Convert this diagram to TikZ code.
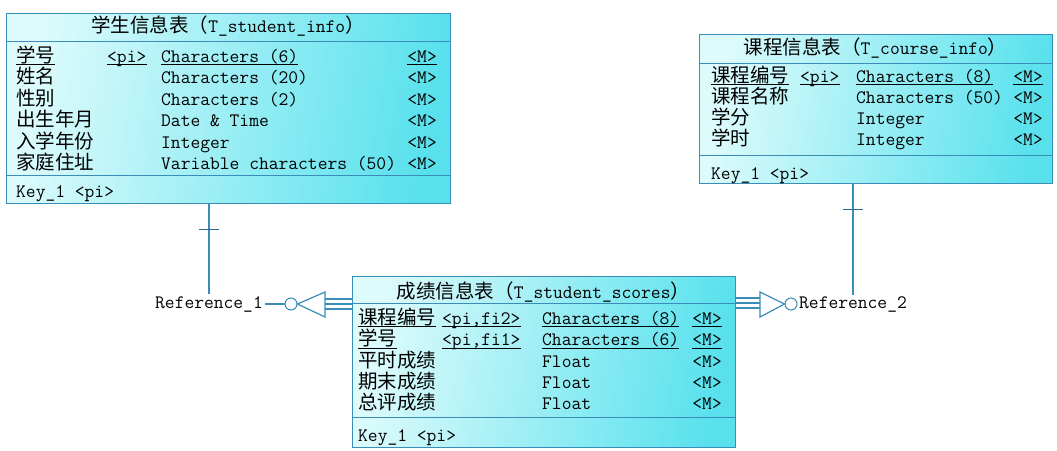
\documentclass[tikz,border=0pt]{standalone}
\usepackage{fontspec}
\newfontfamily\cjkfont{Noto Sans CJK SC}
\definecolor{bd}{RGB}{58,140,185}
\definecolor{cl}{RGB}{222,251,252}
\definecolor{cr}{RGB}{88,225,237}
\definecolor{tk}{RGB}{45,105,140}
\newcommand\zh[1]{{\cjkfont\fontsize{19.5}{20}\selectfont #1}}
\begin{document}
\begin{tikzpicture}[x=1pt,y=-1pt,
  tbl/.style={draw=bd, line width=1.2pt, left color=cl, right color=cr, shading angle=80, anchor=north west, inner sep=0pt},
  sepl/.style={draw=bd, line width=1pt},
  txt/.style={anchor=base west, inner sep=0pt, font=\ttfamily\fontsize{19}{20}\selectfont},
  rtxt/.style={txt, anchor=base east},
  ctxt/.style={txt, anchor=base},
  ul/.style={draw=black, line width=0.8pt},
  conn/.style={draw=bd, line width=1.2pt},
  tick/.style={draw=tk, line width=1pt},
  ring/.style={circle, draw=bd, line width=1pt, minimum size=12pt, inner sep=0pt}]
\useasboundingbox (0,0) rectangle (1057,450);
\fill[white] (0,0) rectangle (1057,450);

% ---------- Table 1: T_student_info ----------
\node[tbl, minimum width=444pt, minimum height=190pt] (t1) at (6,13) {};
\draw[sepl] (6,41) -- (450,41);
\draw[sepl] (6,175) -- (450,175);
\node[ctxt] (t1title) at (228,32) {\zh{学生信息表（}T\_student\_info\zh{）}};
\node[txt] (a11) at (16,62) {\zh{学号}};
\node[txt] (a12) at (107,62) {<pi>};
\node[txt] (a13) at (161,62) {Characters (6)};
\node[rtxt] (a14) at (437,62) {<M>};
\node[txt] (a21) at (16,83.5) {\zh{姓名}};
\node[txt] (a23) at (161,83.5) {Characters (20)};
\node[rtxt] (a24) at (437,83.5) {<M>};
\node[txt] (a31) at (16,105) {\zh{性别}};
\node[txt] (a33) at (161,105) {Characters (2)};
\node[rtxt] (a34) at (437,105) {<M>};
\node[txt] (a41) at (16,126.5) {\zh{出生年月}};
\node[txt] (a43) at (161,126.5) {Date \& Time};
\node[rtxt] (a44) at (437,126.5) {<M>};
\node[txt] (a51) at (16,148) {\zh{入学年份}};
\node[txt] (a53) at (161,148) {Integer};
\node[rtxt] (a54) at (437,148) {<M>};
\node[txt] (a61) at (16,169) {\zh{家庭住址}};
\node[txt] (a63) at (161,169) {Variable characters (50)};
\node[rtxt] (a64) at (437,169) {<M>};
\node[txt] (k1) at (16,197) {Key\_1 <pi>};

% ---------- Table 2: T_course_info ----------
\node[tbl, minimum width=353pt, minimum height=149pt] (t2) at (699,34) {};
\draw[sepl] (699,63) -- (1052,63);
\draw[sepl] (699,155) -- (1052,155);
\node[ctxt] (t2title) at (875.5,54) {\zh{课程信息表（}T\_course\_info\zh{）}};
\node[txt] (b11) at (711,82) {\zh{课程编号}};
\node[txt] (b12) at (800,82) {<pi>};
\node[txt] (b13) at (856,82) {Characters (8)};
\node[rtxt] (b14) at (1043,82) {<M>};
\node[txt] (b21) at (711,103) {\zh{课程名称}};
\node[txt] (b23) at (856,103) {Characters (50)};
\node[rtxt] (b24) at (1043,103) {<M>};
\node[txt] (b31) at (711,124) {\zh{学分}};
\node[txt] (b33) at (856,124) {Integer};
\node[rtxt] (b34) at (1043,124) {<M>};
\node[txt] (b41) at (711,145) {\zh{学时}};
\node[txt] (b43) at (856,145) {Integer};
\node[rtxt] (b44) at (1043,145) {<M>};
\node[txt] (k2) at (711,179) {Key\_1 <pi>};

% ---------- Table 3: T_student_scores ----------
\node[tbl, minimum width=383pt, minimum height=171pt] (t3) at (352,276) {};
\draw[sepl] (352,303) -- (735,303);
\draw[sepl] (352,417) -- (735,417);
\node[ctxt] (t3title) at (543.5,298) {\zh{成绩信息表（}T\_student\_scores\zh{）}};
\node[txt] (c11) at (358,324) {\zh{课程编号}};
\node[txt] (c12) at (442,324) {<pi,fi2>};
\node[txt] (c13) at (542,324) {Characters (8)};
\node[rtxt] (c14) at (722,324) {<M>};
\node[txt] (c21) at (358,345.5) {\zh{学号}};
\node[txt] (c22) at (442,345.5) {<pi,fi1>};
\node[txt] (c23) at (542,345.5) {Characters (6)};
\node[rtxt] (c24) at (722,345.5) {<M>};
\node[txt] (c31) at (358,367) {\zh{平时成绩}};
\node[txt] (c33) at (542,367) {Float};
\node[rtxt] (c34) at (722,367) {<M>};
\node[txt] (c41) at (358,388) {\zh{期末成绩}};
\node[txt] (c43) at (542,388) {Float};
\node[rtxt] (c44) at (722,388) {<M>};
\node[txt] (c51) at (358,409) {\zh{总评成绩}};
\node[txt] (c53) at (542,409) {Float};
\node[rtxt] (c54) at (722,409) {<M>};
\node[txt] (k3) at (358,441) {Key\_1 <pi>};

% underlines of primary-key rows
\foreach \n in {a11,a12,a13,a14,b11,b12,b13,b14,c11,c12,c13,c14,c21,c22,c23,c24}
  \draw[ul] ([yshift=-2.5pt]\n.base west) -- ([yshift=-2.5pt]\n.base east);

% ---------- Reference_1 ----------
\node[ctxt, inner sep=2pt] (r1) at (209,308) {Reference\_1};
\draw[conn] (t1.south -| r1) -- (r1.north);
\draw[tick] (199,229) -- (219,229);
\node[ring] (o1) at (291,304) {};
\draw[conn] (r1.east |- o1.west) -- (o1.west);
\draw[conn] (o1.east) -- (325,292) -- (325,317) -- cycle;
\draw[conn] (325,299) -- (t3.west |- 0,299);
\draw[conn] (325,304) -- (t3.west |- 0,304);
\draw[conn] (325,309) -- (t3.west |- 0,309);

% ---------- Reference_2 ----------
\node[txt, inner sep=1pt] (r2) at (798,308) {Reference\_2};
\draw[conn] (t2.south -| 853,0) -- (r2.north -| 853,0);
\draw[tick] (843,209) -- (863,209);
\node[ring] (o2) at (791,304) {};
\draw[conn] (t3.east |- 0,298) -- (760,298);
\draw[conn] (t3.east |- 0,303) -- (760,303);
\draw[conn] (t3.east |- 0,308) -- (760,308);
\draw[conn] (760,292) -- (o2.west) -- (760,317) -- cycle;
\end{tikzpicture}
\end{document}
